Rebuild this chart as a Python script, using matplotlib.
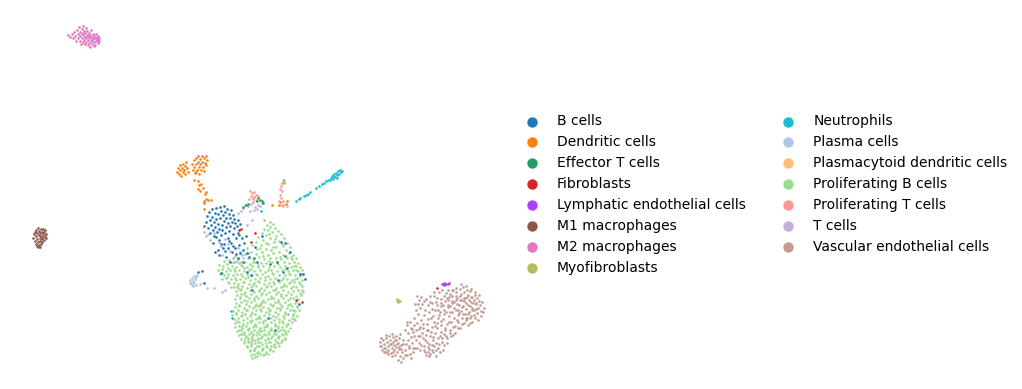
import matplotlib
matplotlib.use("Agg")
import matplotlib.pyplot as plt

# ---------------------------------------------------------------------
# Embedding positions, one list per cell type
b_cells = [(204,226),(206,222),(207,216),(208,228),(209,212),(210,220),(210,233),(211,225),(212,217),(212,209),(213,230),(214,222),
           (214,236),(215,213),(215,227),(216,208),(216,219),(217,232),(218,224),(218,214),(219,229),(219,240),(220,207),(220,218),
           (221,235),(221,211),(222,225),(222,230),(223,215),(224,221),(224,206),(224,244),(225,233),(225,212),(226,227),(226,218),
           (227,209),(228,223),(228,238),(229,214),(229,231),(230,218),(230,226),(231,210),(231,243),(232,222),(233,215),(233,234),
           (234,228),(234,219),(235,223),(235,248),(236,238),(237,226),(238,220),(238,233),(239,245),(240,224),(242,238),(243,250),
           (215,252),(213,243),(218,250),(221,244),(225,251),(228,248),(232,252),(236,254),(240,253),(244,243),(246,236),(247,253),
           (229,241),(223,248),(216,237),(226,257),(219,255),(233,246),(198,272),(202,271),(204,283),(221,273),(230,262),(243,262),
           (249,257),(255,247),(247,272),(251,275),(257,262),(270,264),(277,262),(281,242),(285,243),(290,252),(278,280),(283,272),
           (300,274),(303,274),(305,279),(299,304),(287,268),(262,236),(238,258),(252,290),(268,318),(275,330)]

dendritic = [(177,172),(178,168),(179,174),(180,170),(180,165),(181,176),(182,168),(183,172),(183,164),(184,170),(185,166),(185,174),
             (186,162),(187,168),(188,172),(192,164),(193,170),(194,160),(194,167),(195,173),(196,158),(196,164),(197,170),(198,156),
             (198,162),(199,167),(199,174),(200,159),(200,164),(201,170),(202,156),(202,162),(203,167),(204,158),(204,171),(205,163),
             (206,156),(206,165),(207,160),(196,172),(194,180),(198,181),(199,185),(201,184),(203,188),(198,189),(200,191),(206,192),
             (205,194),(206,199),(204,201),(208,200),(211,200),(204,203),(272,205),(279,205),(280,202),(286,204),(287,201),(204,209)]

effector_t = [(248,204),(246,205),(258,198),(260,200),(262,201),(263,203),(257,201),(243,207),(239,235),(254,258),(285,256)]

fibroblasts = [(241,229),(255,233),(251,242),(296,300),(302,302),(437,288),(239,230)]

lymphatic = [(442,284),(444,285),(446,284),(448,284),(444,283),(449,283),(445,284)]

m1_macro = [(33,238),(34,234),(35,241),(36,236),(36,230),(36,244),(37,233),(37,239),(38,228),(38,242),(38,247),(39,235),
            (39,231),(39,245),(40,238),(40,233),(40,241),(41,229),(41,236),(41,244),(42,232),(42,239),(42,242),(43,234),
            (43,229),(43,237),(44,240),(44,232),(45,236),(45,230),(46,234),(46,238),(37,246),(40,247),(35,232)]

m2_macro = [(68,35),(70,37),(72,34),(74,32),(73,38),(75,36),(76,41),(77,30),(78,34),(78,38),(79,27),(80,32),(80,36),(80,41),
            (81,44),(82,29),(82,34),(82,38),(83,26),(83,42),(84,31),(84,36),(84,40),(85,33),(85,44),(86,28),(86,38),(86,42),
            (87,35),(87,31),(88,40),(88,37),(88,45),(89,33),(89,43),(90,38),(90,35),(91,41),(91,30),(92,37),(92,44),(93,34),
            (93,39),(94,42),(94,36),(95,38),(95,45),(96,34),(96,41),(97,37),(97,39),(98,36),(98,43),(98,40),(99,38),(99,41),
            (85,37),(83,33),(89,36),(92,40),(94,46),(90,47)]

myofibroblasts = [(397,299),(398,300),(399,301),(397,301),(398,302),(400,301),(283,180),(284,182),(282,183)]

neutrophils = [(296,201),(299,199),(304,196),(306,195),(308,194),(310,192),(316,188),(319,186),(322,184),(324,183),(326,181),(328,180),
               (330,180),(331,178),(332,176),(333,179),(334,174),(335,177),(336,173),(337,175),(338,171),(339,174),(340,170),(341,172),
               (342,171),(337,178),(261,211),(231,311),(232,318),(333,176),(300,198)]

plasma = [(190,280),(191,283),(192,278),(192,285),(193,281),(194,276),(194,283),(195,279),(196,277),(197,275),(196,285),(200,284),
          (207,288),(214,288),(190,283),(193,286)]

plasmacytoid = [(283,204),(252,197)]

prolif_b = [(270,222),(267,225),(273,224),(270,227),(275,228),(264,229),(268,230),(278,231),(272,232),(262,233),(266,235),(281,234),
            (276,236),(258,237),(270,238),(284,238),(263,240),(279,241),(274,242),(287,243),(256,242),(268,244),(261,245),(283,246),
            (252,245),(290,247),(276,247),(266,249),(271,250),(257,249),(286,250),(247,248),(240,252),(245,254),(251,252),(256,254),
            (262,252),(268,255),(273,253),(279,252),(283,255),(289,253),(293,255),(235,256),(238,259),(243,258),(248,258),(253,259),
            (259,257),(264,259),(270,258),(276,258),(281,259),(287,258),(292,259),(296,258),(224,261),(229,260),(233,262),(239,263),
            (245,262),(250,264),(255,262),(261,263),(266,263),(272,262),(278,264),(284,262),(289,263),(294,262),(298,263),(219,265),
            (223,266),(227,264),(232,266),(236,267),(242,266),(247,267),(252,266),(258,267),(263,266),(269,267),(274,266),(280,267),
            (285,266),(291,267),(296,266),(300,267),(218,270),(222,269),(226,271),(230,270),(235,271),(239,270),(244,271),(249,270),
            (254,271),(260,270),(265,272),(271,270),(277,271),(282,270),(288,271),(293,270),(298,271),(302,270),(220,274),(224,275),
            (228,274),(233,275),(237,274),(242,276),(247,274),(252,275),(257,275),(262,274),(268,276),(273,274),(279,275),(285,275),
            (290,274),(295,275),(300,276),(303,274),(222,279),(226,278),(231,279),(236,280),(240,279),(245,278),(250,280),(255,279),
            (260,278),(265,280),(270,279),(275,278),(281,280),(287,279),(292,280),(297,278),(302,280),(229,283),(234,283),(238,284),
            (244,282),(249,284),(254,283),(259,282),(264,284),(269,283),(274,284),(279,282),(284,284),(289,283),(294,282),(300,284),
            (234,287),(238,288),(242,286),(247,288),(251,287),(256,286),(261,288),(266,287),(271,286),(276,288),(281,287),(286,286),
            (291,288),(296,287),(302,286),(236,291),(240,290),(245,292),(250,290),(254,292),(259,291),(264,290),(269,292),(273,290),
            (278,292),(283,290),(288,292),(293,291),(298,290),(303,292),(237,295),(241,294),(246,296),(251,294),(256,296),(261,295),
            (266,294),(271,296),(276,294),(281,296),(286,295),(291,294),(296,296),(301,295),(235,299),(240,298),(244,300),(249,298),
            (254,300),(258,298),(263,300),(268,299),(273,298),(278,300),(283,298),(288,300),(293,298),(298,299),(236,303),(241,302),
            (246,304),(251,302),(256,304),(261,303),(265,302),(270,304),(275,302),(280,304),(285,302),(290,304),(295,303),(235,307),
            (239,306),(244,308),(249,306),(253,308),(258,306),(263,307),(268,308),(272,306),(277,308),(282,306),(287,308),(292,306),
            (297,307),(233,311),(238,310),(242,312),(247,310),(252,312),(256,310),(261,311),(266,312),(270,310),(275,312),(280,310),
            (285,312),(290,310),(295,311),(299,310),(232,315),(236,314),(241,316),(245,314),(250,316),(255,314),(259,316),(264,315),
            (269,314),(273,316),(278,314),(283,316),(288,314),(293,315),(297,316),(234,319),(238,318),(243,320),(247,318),(252,320),
            (256,319),(260,318),(265,320),(270,318),(274,320),(279,319),(284,318),(289,320),(294,319),(235,323),(239,322),(243,324),
            (247,323),(251,322),(255,324),(259,322),(263,323),(267,324),(271,322),(275,324),(279,322),(283,323),(288,324),(292,322),
            (235,327),(239,326),(242,328),(246,326),(249,328),(253,327),(256,326),(260,328),(264,327),(267,326),(271,328),(275,326),
            (278,328),(282,327),(286,326),(290,328),(237,331),(241,330),(244,332),(248,330),(251,332),(254,330),(257,332),(261,331),
            (264,330),(268,332),(271,330),(274,332),(278,331),(281,330),(285,332),(288,331),(239,335),(243,334),(246,336),(249,334),
            (252,336),(256,335),(259,334),(262,336),(266,335),(269,334),(272,336),(276,334),(279,336),(283,335),(286,334),(241,339),
            (245,338),(248,340),(252,338),(255,340),(258,339),(261,338),(265,340),(268,339),(271,338),(275,340),(278,338),(282,340),
            (285,339),(244,343),(248,342),(251,344),(255,343),(258,342),(262,344),(266,343),(270,342),(274,344),(278,343),(281,342),
            (247,347),(251,346),(255,348),(259,346),(263,348),(267,347),(271,346),(275,347),(279,346),(250,351),(254,350),(258,352),
            (262,350),(266,352),(270,350),(273,351),(251,355),(254,354),(257,356),(260,354),(263,355),(252,358),(255,357),(268,354),
            # second pass, off the rows
            (268.5,233.5),(274.5,238.5),(265.5,242.5),(281.5,243.5),(259.5,247.5),(272.5,246.5),(247.5,252.5),(262.5,255.5),(279.5,256.5),(236.5,260.5),
            (252.5,261.5),(268.5,260.5),(290.5,256.5),(227.5,267.5),(240.5,264.5),(257.5,264.5),(276.5,261.5),(293.5,265.5),(221.5,272.5),(233.5,268.5),
            (250.5,268.5),(267.5,269.5),(284.5,268.5),(299.5,273.5),(226.5,276.5),(240.5,273.5),(255.5,273.5),(271.5,272.5),(288.5,273.5),(234.5,277.5),
            (247.5,276.5),(264.5,276.5),(282.5,277.5),(294.5,278.5),(227.5,281.5),(242.5,281.5),(257.5,280.5),(272.5,281.5),(289.5,281.5),(236.5,285.5),
            (252.5,284.5),(266.5,285.5),(282.5,285.5),(298.5,281.5),(240.5,288.5),(258.5,289.5),(274.5,289.5),(292.5,285.5),(243.5,293.5),(261.5,292.5),
            (280.5,293.5),(299.5,292.5),(239.5,296.5),(253.5,297.5),(270.5,297.5),(289.5,297.5),(246.5,300.5),(261.5,301.5),(277.5,301.5),(296.5,300.5),
            (238.5,304.5),(254.5,305.5),(272.5,304.5),(287.5,304.5),(245.5,309.5),(259.5,308.5),(279.5,307.5),(292.5,309.5),(235.5,312.5),(250.5,313.5),
            (268.5,310.5),(284.5,313.5),(241.5,314.5),(257.5,317.5),(275.5,316.5),(291.5,317.5),(236.5,320.5),(249.5,320.5),(262.5,320.5),(281.5,320.5),
            (241.5,325.5),(253.5,325.5),(265.5,325.5),(277.5,325.5),(286.5,323.5),(238.5,329.5),(247.5,328.5),(258.5,329.5),(269.5,329.5),(283.5,329.5),
            (243.5,333.5),(252.5,333.5),(263.5,333.5),(273.5,333.5),(281.5,333.5),(247.5,337.5),(257.5,337.5),(267.5,337.5),(277.5,336.5),(284.5,337.5),
            (250.5,341.5),(259.5,341.5),(268.5,341.5),(276.5,341.5),(246.5,345.5),(256.5,345.5),(265.5,345.5),(273.5,345.5),(253.5,349.5),(261.5,348.5),
            (269.5,348.5),(256.5,352.5),(264.5,353.5),(249.5,349.5),(243.5,340.5),(240.5,333.5),(292.5,313.5),(296.5,305.5),(301.5,289.5),(295.5,269.5)]

prolif_t = [(250,191),(252,193),(254,192),(251,196),(254,197),(256,195),(253,199),(256,200),(249,199),(258,196),(280,189),(281,186),
            (282,191),(280,195),(281,198),(283,201),(282,205),(279,201),(260,305),(252,340)]

t_cells = [(243,208),(245,205),(248,206),(251,204),(253,202),(255,207),(258,205),(260,206),(262,203),(257,209),(250,211),(241,211),
           (238,213),(254,210),(283,206),(287,206),(284,183),(284,180),(264,220),(204,232),(206,236),(208,234),(210,240),(214,233),
           (219,242),(221,246),(225,239),(228,244),(222,255),(230,251),(233,258),(235,262),(238,248),(247,225),(252,220),(242,255),
           (241,262),(244,268),(225,290),(231,287),(222,292),(295,320),(288,314)]

vascular = [(380,342),(381,346),(382,350),(383,340),(384,344),(385,348),(385,352),(386,338),(387,342),(388,346),(388,350),(389,336),
            (390,340),(391,344),(391,353),(392,348),(393,337),(393,342),(394,345),(394,350),(395,355),(396,340),(396,347),(397,352),
            (398,343),(399,338),(399,349),(400,356),(401,345),(402,352),(403,340),(403,358),(405,350),(406,344),(407,355),(408,340),
            (409,348),(410,354),(411,337),(412,343),(413,332),(414,325),(415,348),(416,330),(417,323),(418,336),(419,343),(420,327),
            (420,350),(421,320),(422,333),(423,338),(424,346),(425,352),(426,355),(427,324),(427,342),(428,330),(429,349),(429,356),
            (430,336),(431,318),(432,327),(432,345),(433,340),(434,322),(435,333),(436,350),(437,328),(438,318),(438,338),(439,344),
            (440,312),(441,325),(441,332),(442,338),(443,305),(443,319),(444,345),(445,330),(446,312),(447,324),(447,338),(448,300),
            (449,316),(450,306),(450,330),(451,322),(452,296),(452,312),(453,335),(454,302),(454,318),(455,326),(456,292),(456,310),
            (457,298),(458,315),(458,322),(459,305),(460,289),(460,328),(461,294),(461,311),(462,300),(462,318),(463,287),(463,306),
            (464,292),(464,323),(465,298),(465,314),(466,303),(466,309),(467,290),(467,318),(468,295),(468,325),(469,300),(469,312),
            (470,306),(470,291),(471,316),(472,297),(472,322),(473,303),(474,310),(475,295),(475,318),(476,304),(477,298),(477,313),
            (478,308),(479,301),(480,305),(481,311),(482,302),(483,312),(484,308),(417,296),(419,300),(421,297),(418,304),(422,304),
            (416,310),(420,308),(424,315),(426,299),(428,305),(430,296),(432,303),(434,292),(435,310),(437,298),(439,292),(441,299),
            (442,290),(444,296),(446,293),(448,290),(450,294),(425,310),(429,312),(433,316),(412,329),(408,333),(405,330),(407,325),
            (410,322),(414,318),(437,305),(441,306),(445,301),(449,297),(453,290),(457,304),(459,313),(463,314),(467,297),(471,302),
            (455,333),(451,336),(447,343),(443,350),(440,352),(436,356),(433,352),(429,344),(425,340),(421,345),(417,348),(413,352),
            (411,358),(398,360),(401,362),(392,356),(388,354),(384,352),(381,338),(386,335),(392,334),(396,336),(400,334),(423,328),
            (426,335),(431,332),(435,326),(439,315),(444,310),(448,307),(452,303),(456,300),(460,296),(464,301),(468,305),(472,308),
            (476,309),(458,328),(462,324),(466,320),(470,318),(474,300),(434,346),(428,352),(424,350),(430,354),
            # second pass, off the rows
            (460.5,283.5),(465.5,285.5),(470.5,288.5),(474.5,291.5),(478.5,294.5),(455.5,287.5),(451.5,289.5),(446.5,297.5),(440.5,302.5),(435.5,301.5),
            (431.5,308.5),(427.5,318.5),(449.5,311.5),(453.5,307.5),(457.5,309.5),(461.5,306.5),(465.5,317.5),(469.5,322.5),(473.5,314.5),(477.5,319.5),
            (480.5,315.5),(456.5,319.5),(452.5,326.5),(448.5,321.5),(444.5,327.5),(440.5,320.5),(436.5,322.5),(432.5,336.5),(449.5,332.5),(445.5,335.5),
            (441.5,341.5),(437.5,347.5),(426.5,329.5),(422.5,323.5),(419.5,335.5),(415.5,339.5),(412.5,347.5),(408.5,345.5),(404.5,354.5),(400.5,348.5),
            (396.5,343.5),(392.5,351.5),(389.5,343.5),(386.5,351.5),(383.5,347.5),(379.5,345.5),(394.5,339.5),(398.5,346.5),(402.5,343.5),(427.5,346.5),
            (431.5,349.5),(435.5,342.5),(439.5,335.5),(443.5,333.5),(463.5,297.5),(459.5,299.5),(455.5,295.5),(451.5,300.5),(447.5,304.5),(443.5,313.5),
            (471.5,309.5),(467.5,313.5),(475.5,302.5),(470.5,296.5),(414.5,303.5),(417.5,313.5),(423.5,300.5),(429.5,301.5),(433.5,295.5),(437.5,309.5),
            (410.5,327.5),(406.5,321.5),(413.5,335.5),(418.5,328.5)]

categories = ["B cells", "Dendritic cells", "Effector T cells", "Fibroblasts",
              "Lymphatic endothelial cells", "M1 macrophages", "M2 macrophages", "Myofibroblasts",
              "Neutrophils", "Plasma cells", "Plasmacytoid dendritic cells", "Proliferating B cells",
              "Proliferating T cells", "T cells", "Vascular endothelial cells"]

colors = ["#1f77b4", "#ff7f0e", "#279e68", "#d62728",
          "#aa40fc", "#8c564b", "#e377c2", "#b5bd61",
          "#17becf", "#aec7e8", "#ffbb78", "#98df8a",
          "#ff9896", "#c5b0d5", "#c49c94"]

points = [b_cells, dendritic, effector_t, fibroblasts,
          lymphatic, m1_macro, m2_macro, myofibroblasts,
          neutrophils, plasma, plasmacytoid, prolif_b,
          prolif_t, t_cells, vascular]

fig = plt.figure(figsize=(10.22, 3.89), dpi=100)
ax = fig.add_axes([0, 0, 505.5 / 1022, 1])

# big clusters first so the small ones stay visible on top
order = sorted(range(len(points)), key=lambda i: -len(points[i]))
for i in order:
    xs = [p[0] for p in points[i]]
    ys = [p[1] for p in points[i]]
    ax.scatter(xs, ys, s=3.6, color=colors[i], linewidths=0, zorder=2)

# empty scatters only for the legend
for name, col in zip(categories, colors):
    ax.scatter([], [], s=56, color=col, linewidths=0, label=name)

ax.set_xlim(0, 505.5)
ax.set_ylim(389, 0)
ax.axis("off")
ax.legend(loc="center left", bbox_to_anchor=(1, 0.5), ncol=2, frameon=False, fontsize=10, columnspacing=2.06)

plt.savefig("out.png", dpi=100)
plt.close()
